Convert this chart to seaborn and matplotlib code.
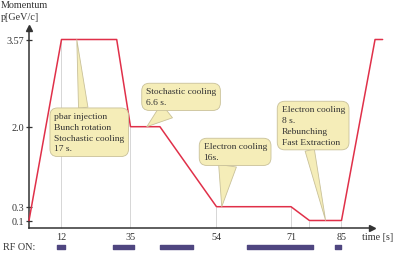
import numpy as np
import pandas as pd
import seaborn as sns
import matplotlib.pyplot as plt

# momentum cycle (schematic), time in s, momentum in GeV/c
cycle_time = [0, 12, 30.4, 35, 41.5, 54, 71, 76.1, 85, 94.3, 96.4]
cycle_p = [0.1, 3.57, 3.57, 2.0, 2.0, 0.3, 0.3, 0.1, 0.1, 3.57, 3.57]

x_ticks = [12, 35, 54, 71, 85]
y_ticks = [0.1, 0.3, 2.0, 3.57]
y_tick_labels = ["0.1", "0.3", "2.0", "3.57"]

# transition markers (thin grey lines)
marker_times = [12, 35, 54, 71, 76.1, 85]

# RF on windows (start, end) in s
rf_start = [10.5, 29.1, 41.6, 61.0, 83.2]
rf_end = [13.3, 35.8, 48.7, 77.1, 85.0]

callout_text = [
    "pbar injection\nBunch rotation\nStochastic cooling\n17 s.",
    "Stochastic cooling\n6.6 s.",
    "Electron cooling\n16s.",
    "Electron cooling\n8 s.\nRebunching\nFast Extraction",
]
callout_time = [17.1, 38.6, 55.2, 80.6]
callout_p = [3.57, 2.0, 0.3, 0.1]

# the original drawing is not to scale: piecewise linear axes (value -> pixel)
X_KNOTS = ([0, 12, 35, 54, 71, 85], [29, 61.5, 130.5, 216.5, 291, 341.5])
Y_KNOTS = ([0, 0.1, 0.3, 2.0, 3.57], [0, 7.5, 21.3, 101.3, 188.5])

RED = "#e03049"
INK = "#333333"
BOX_FC = "#f5edb8"
BOX_EC = "#c9c199"
RF_COLOR = "#4f4680"
FS = 7.3
FS_BOX = 6.8


def piecewise(k_in, k_out):
    a = np.asarray(k_in, float)
    b = np.asarray(k_out, float)

    def _map(v, src, dst):
        v = np.asarray(v, float)
        out = np.interp(v, src, dst)
        lo = (dst[1] - dst[0]) / (src[1] - src[0])
        hi = (dst[-1] - dst[-2]) / (src[-1] - src[-2])
        out = np.where(v < src[0], dst[0] + (v - src[0]) * lo, out)
        out = np.where(v > src[-1], dst[-1] + (v - src[-1]) * hi, out)
        return out

    return (lambda v: _map(v, a, b)), (lambda p: _map(p, b, a))


sns.set_theme(style="white")
plt.rcParams["font.family"] = ["Liberation Serif", "DejaVu Serif"]

fig = plt.figure(figsize=(3.94, 2.55), dpi=100)
ax = fig.add_axes([0, 0, 1, 1])
ax.patch.set_alpha(0)

fx, fx_inv = piecewise(*X_KNOTS)
fy, fy_inv = piecewise(*Y_KNOTS)
ax.set_xscale("function", functions=(fx, fx_inv))
ax.set_yscale("function", functions=(fy, fy_inv))
ax.set_xlim(float(fx_inv(0)), float(fx_inv(394)))
ax.set_ylim(float(fy_inv(-26)), float(fy_inv(229)))

df = pd.DataFrame({"time": cycle_time, "p": cycle_p})

# grey transition markers
marker_top = np.interp(marker_times, cycle_time, cycle_p)
ax.vlines(marker_times, 0, marker_top, color="#d6d6d6", lw=0.7, zorder=1)

sns.lineplot(data=df, x="time", y="p", ax=ax, color=RED, lw=1.1,
             sort=False, zorder=3)
ax.set_xlabel("")
ax.set_ylabel("")

# axes with arrow heads
for side in ["top", "right"]:
    ax.spines[side].set_visible(False)
ax.spines["left"].set_position(("data", 0))
ax.spines["bottom"].set_position(("data", 0))
y_top = float(fy_inv(200))
x_end = float(fx_inv(372))
ax.spines["left"].set_bounds(0, y_top)
ax.spines["bottom"].set_bounds(0, x_end)
for side in ["left", "bottom"]:
    ax.spines[side].set_color(INK)
    ax.spines[side].set_linewidth(1.1)
ax.plot([0], [y_top], marker="^", ms=5, color=INK, clip_on=False, zorder=4)
ax.plot([x_end], [0], marker=">", ms=5, color=INK, clip_on=False, zorder=4)

ax.set_yticks(y_ticks)
ax.set_yticklabels(y_tick_labels)
ax.set_xticks(x_ticks)
ax.set_xticklabels([str(t) for t in x_ticks])
ax.minorticks_off()
ax.tick_params(axis="y", direction="inout", length=4.5, width=0.9, color=INK,
               pad=1.5, labelsize=FS, labelcolor=INK, left=True)
ax.tick_params(axis="x", length=0, pad=2.8, labelsize=FS, labelcolor=INK)

# RF ON bars
rf_w = [e - s for s, e in zip(rf_start, rf_end)]
ax.broken_barh(list(zip(rf_start, rf_w)), (0.0196, 0.0157),
               transform=ax.get_xaxis_transform(), color=RF_COLOR, zorder=2)

# callouts
box_xy = [(54.2, 141.8), (146.0, 166.5), (203.5, 111.5), (281.5, 148.5)]
rel = [(0.42, 1.0), (0.38, 0.0), (0.39, 0.0), (0.43, 0.0)]
tails = [1.0, 1.9, 1.9, 1.0]
for txt, t, p, xy, rp, tw in zip(callout_text, callout_time, callout_p,
                                 box_xy, rel, tails):
    ax.annotate(txt, xy=(t, p), xycoords="data", xytext=xy,
                textcoords="figure pixels", ha="left", va="top",
                fontsize=FS_BOX, color=INK, linespacing=1.45, zorder=5,
                bbox=dict(boxstyle="round,pad=0.45,rounding_size=0.8",
                          fc=BOX_FC, ec=BOX_EC, lw=0.6),
                arrowprops=dict(arrowstyle=f"wedge,tail_width={tw},shrink_factor=0.5",
                                fc=BOX_FC, ec=BOX_EC, lw=0.6, relpos=rp,
                                shrinkA=0, shrinkB=0))

fig.text(1 / 394, 1 - 6 / 255, "Momentum", fontsize=FS, color=INK,
         ha="left", va="center")
fig.text(1 / 394, 1 - 17 / 255, "p[GeV/c]", fontsize=FS, color=INK,
         ha="left", va="center")
fig.text(3 / 394, 1 - 248 / 255, "RF ON:", fontsize=FS, color=INK,
         ha="left", va="center")
fig.text(362 / 394, 1 - 238 / 255, "time [s]", fontsize=FS, color=INK,
         ha="left", va="center")

fig.savefig("out.png", dpi=100)
